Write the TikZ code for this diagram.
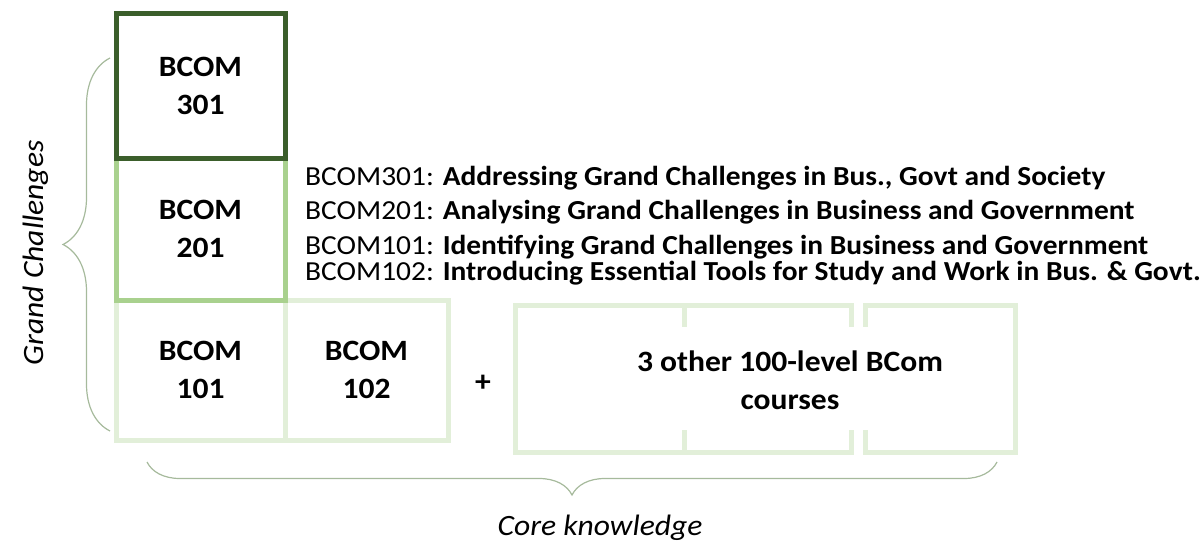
\documentclass[tikz,border=0pt]{standalone}
\usepackage{fontspec}
\setmainfont{Carlito}[FakeStretch=1.07]
\usetikzlibrary{positioning, decorations.pathreplacing}

\definecolor{darkgr}{HTML}{3B5E2B}
\definecolor{midgr}{HTML}{A9D18E}
\definecolor{lightgr}{HTML}{E2EFD9}
\definecolor{bracegr}{HTML}{A6BA9C}

\begin{document}
\begin{tikzpicture}[x=1pt, y=-1pt, font=\fontsize{29.5}{38}\selectfont\bfseries]
  \tikzset{
    course/.style={
      draw,
      line width=5pt,
      outer sep=0pt,
      minimum width=169pt,
      minimum height=142pt,
      align=center},
    other/.style={
      draw=lightgr,
      line width=5pt,
      minimum height=147pt,
      outer sep=0pt},
    brc/.style={
      draw=bracegr,
      line width=1.2pt,
      decorate},
    desc/.style={
      anchor=base west,
      inner sep=0pt,
      font=\fontsize{27.5}{27.5}\selectfont},
    side/.style={
      font=\fontsize{29.5}{29.5}\selectfont\itshape}}

  \useasboundingbox (0,0) rectangle (1203,543);

  % first year
  \node[course, draw=lightgr, minimum height=140pt] (b101) at (200.5,370) {BCOM\\101};
  \node[course, draw=lightgr, minimum width=163pt, minimum height=140pt] (b102) [right=0pt of b101] {BCOM\\102};
  % second and third year
  \node[course, draw=midgr] (b201) [above=0pt of b101] {BCOM\\201};
  \node[course, draw=darkgr, minimum height=144pt] (b301) [above=0pt of b201] {BCOM\\301};

  \node (plus) at (483,383) {+};

  % the other 100-level courses
  \node[other, minimum width=169pt] (o1) at (599.5,378.5) {};
  \node[other, minimum width=167pt] (o2) [right=0pt of o1] {};
  \node[other, minimum width=150pt] (o3) at (940,378.5) {};
  \node[fill=white, minimum width=487pt, minimum height=103pt] (cover) at (765,378) {};
  \node[align=center] (oth) at (790,380) {3 other 100-level BCom\\courses};

  % course titles
  \node[desc] (t301) at (305,185) {BCOM301: \textbf{Addressing Grand Challenges in Bus., Govt and Society}};
  \node[desc] (t201) at (305,219) {BCOM201: \textbf{Analysing Grand Challenges in Business and Government}};
  \node[desc] (t101) at (305,254) {BCOM101: \textbf{Identifying Grand Challenges in Business and Government}};
  \node[desc] (t102) at (305,280) {BCOM102: \textbf{Introducing Essential Tools for Study and Work in Bus. \& Govt.}};

  % braces
  \coordinate (gtop) at (110,58);
  \coordinate (gbot) at (110,431);
  \coordinate (cleft) at (147,462);
  \coordinate (cright) at (997,462);
  \draw[brc, decoration={brace, amplitude=47pt}] (gbot) -- (gtop);
  \draw[brc, decoration={brace, amplitude=33pt}] (cright) -- (cleft);

  \node[side, rotate=90] (gc) at (36,253) {Grand Challenges};
  \node[side, anchor=base] (ck) at (600,535) {Core knowledge};
\end{tikzpicture}
\end{document}
